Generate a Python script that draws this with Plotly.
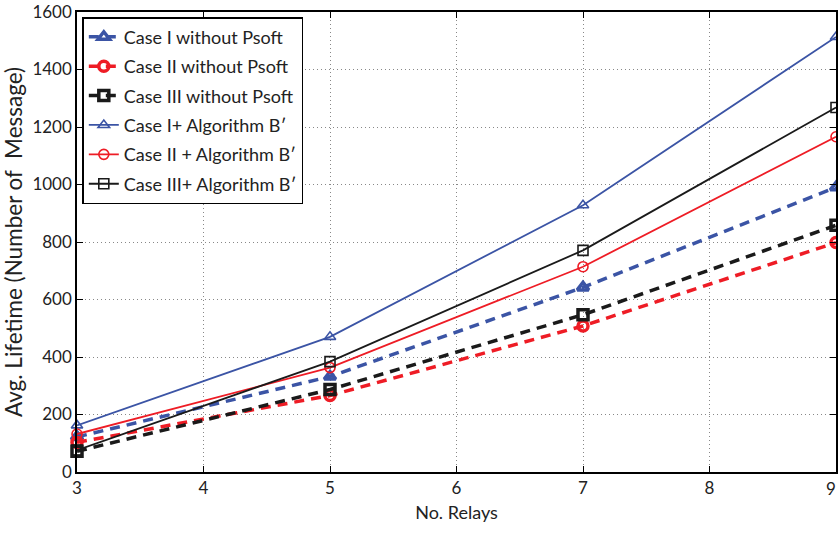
import plotly.graph_objects as go

relays = [3, 5, 7, 9]
case1_without = [122, 332, 642, 990]
case2_without = [103, 266, 508, 798]
case3_without = [72, 287, 547, 858]
case1_algo = [162, 470, 928, 1513]
case2_algo = [132, 363, 714, 1166]
case3_algo = [76, 384, 771, 1268]

names = ["Case I without Psoft", "Case II without Psoft", "Case III without Psoft",
         "Case I+ Algorithm B\u2032", "Case II + Algorithm B\u2032", "Case III+ Algorithm B\u2032"]
series = [case1_without, case2_without, case3_without, case1_algo, case2_algo, case3_algo]
xticks = [3, 4, 5, 6, 7, 8, 9]
yticks = list(range(0, 1601, 200))

BLUE = "#3b54a5"
RED = "#ee1c25"
BLACK = "#1a1a1a"
colors = [BLUE, RED, BLACK, BLUE, RED, BLACK]
symbols = ["triangle-up-open", "circle-open", "square-open"] * 2

fig = go.Figure()
for i, (nm, ys) in enumerate(zip(names, series)):
    dashed = i < 3
    fig.add_trace(go.Scatter(
        x=relays, y=ys, name=nm, mode="lines+markers",
        legendgroup=f"g{i}",
        line=dict(color=colors[i], width=3.5 if dashed else 1.8,
                  dash="10px,7px" if dashed else "solid"),
        marker=dict(symbol=symbols[i], size=10,
                    color=colors[i],
                    line=dict(color=colors[i], width=3.5 if dashed else 1.6)),
        cliponaxis=False,
    ))

font = "Lato, 'Open Sans', sans-serif"
fig.update_layout(
    width=838, height=534,
    margin=dict(l=77, r=0, t=12, b=62),
    paper_bgcolor="white", plot_bgcolor="white",
    font=dict(family=font, size=17, color="#222"),
    showlegend=True,
    legend=dict(x=0.007, y=0.989, xanchor="left", yanchor="top",
                bgcolor="white", bordercolor="black", borderwidth=1.5,
                font=dict(size=18, family=font), traceorder="grouped",
                tracegroupgap=3, itemwidth=30),
)
fig.update_xaxes(
    range=[3, 9], tickvals=xticks,
    title=dict(text="No. Relays", standoff=9, font=dict(size=18)),
    showline=True, linecolor="black", linewidth=1.5, mirror="ticks",
    ticks="inside", ticklen=6, tickcolor="black",
    showgrid=True, gridcolor="#888888", griddash="1px,3px", gridwidth=1,
    zeroline=False, tickfont=dict(size=17),
)
fig.update_yaxes(
    range=[0, 1600], tickvals=yticks,
    title=dict(text="Avg. Lifetime (Number of  Message)", standoff=4, font=dict(size=22.5)),
    showline=True, linecolor="black", linewidth=1.5, mirror="ticks",
    ticks="inside", ticklen=6, tickcolor="black",
    showgrid=True, gridcolor="#888888", griddash="1px,3px", gridwidth=1,
    zeroline=False, tickfont=dict(size=17),
)
# last x tick label at the right edge, kept just inside the picture
fig.add_annotation(x=xticks[-1], y=0, xref="x", yref="y", text=str(xticks[-1]),
                   showarrow=False, yanchor="top", xanchor="right", yshift=-4, xshift=2,
                   font=dict(size=17, family=font, color="#222"))
fig.write_html("out.html")
